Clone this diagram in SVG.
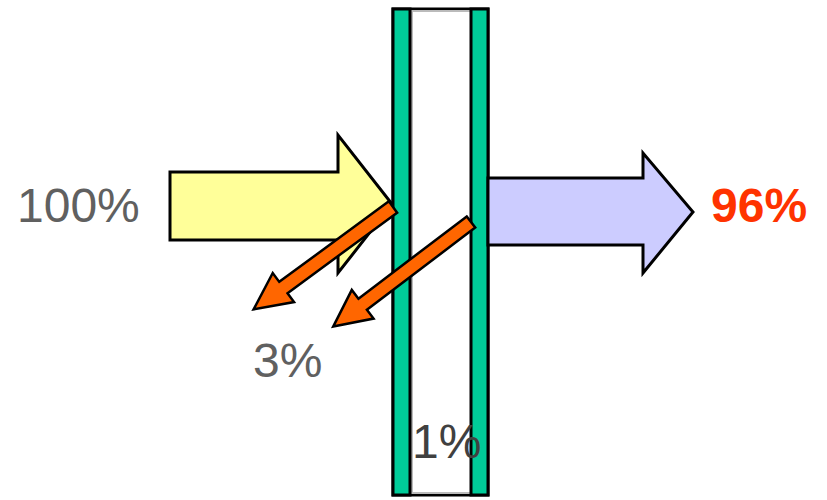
<svg xmlns="http://www.w3.org/2000/svg" width="827" height="500" viewBox="0 0 827 500">
<style>
.pane{fill:#00CC99;stroke:#000;stroke-width:3}
.blk{stroke:#000;stroke-width:3;stroke-linejoin:miter}
.orange{fill:#FF6600;stroke:#000;stroke-width:2.5;stroke-linejoin:miter}
.lbl{font-family:"Liberation Sans",Arial,sans-serif;font-size:48px}
</style>
<rect width="827" height="500" fill="#fff"/>
<g id="glass">
<rect x="393" y="9" width="95" height="486" fill="#fff" stroke="#000" stroke-width="3"/>
<line x1="412" y1="11" x2="412" y2="493" stroke="#bbb" stroke-width="2"/>
<line x1="410" y1="11" x2="470" y2="11" stroke="#bbb" stroke-width="2"/>
<line x1="410" y1="493" x2="470" y2="493" stroke="#bbb" stroke-width="2"/>
<rect class="pane" x="393" y="9" width="17" height="486"/>
<rect class="pane" x="471" y="9" width="17" height="486"/>
</g>
<g id="incoming">
<polygon class="blk" fill="#FFFF99" points="170,172 338,172 338,135 392,204 338,273 338,240 170,240"/>
</g>
<g id="transmitted">
<polygon class="blk" fill="#CCCCFF" points="488,178 643,178 643,153 693,212 643,273 643,245 488,245"/>
</g>
<g id="connectors">
<polygon class="orange" transform="translate(393,207) rotate(143.7)" points="0,-7 136,-7 136,-18 173,0 136,18 136,7 0,7"/>
<polygon class="orange" transform="translate(471,222) rotate(142.8)" points="0,-7 136,-7 136,-18 173,0 136,18 136,7 0,7"/>
</g>
<g id="label-100">
<text class="lbl" x="17" y="222" fill="#606060">100%</text>
</g>
<g id="label-96">
<text class="lbl" x="711" y="222" fill="#FF3300" font-weight="bold" font-size="46">96%</text>
</g>
<g id="label-3">
<text class="lbl" x="253" y="377" fill="#606060">3%</text>
</g>
<g id="label-1">
<text class="lbl" x="412" y="458" fill="#404040">1%</text>
</g>
</svg>
